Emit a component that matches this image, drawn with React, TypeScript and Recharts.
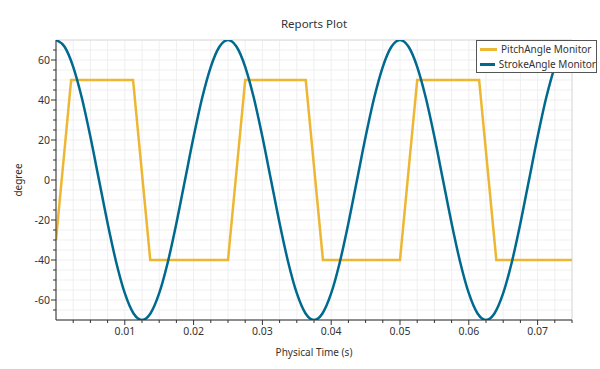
import React from "react";
import { LineChart, Line, XAxis, YAxis, CartesianGrid } from "recharts";

// PitchAngle Monitor (trapezoid wave)
const pitchTime = [0, 0.0022, 0.0112, 0.0137, 0.025, 0.0275, 0.0363, 0.0388, 0.05, 0.0525, 0.0615, 0.064, 0.075];
const pitchAngle = [-30, 50, 50, -40, -40, 50, 50, -40, -40, 50, 50, -40, -40];

// StrokeAngle Monitor sampled every 0.00125 s
const strokeTime = [
  0, 0.00125, 0.0025, 0.00375, 0.005, 0.00625, 0.0075, 0.00875, 0.01, 0.01125,
  0.0125, 0.01375, 0.015, 0.01625, 0.0175, 0.01875, 0.02, 0.02125, 0.0225, 0.02375,
  0.025, 0.02625, 0.0275, 0.02875, 0.03, 0.03125, 0.0325, 0.03375, 0.035, 0.03625,
  0.0375, 0.03875, 0.04, 0.04125, 0.0425, 0.04375, 0.045, 0.04625, 0.0475, 0.04875,
  0.05, 0.05125, 0.0525, 0.05375, 0.055, 0.05625, 0.0575, 0.05875, 0.06, 0.06125,
  0.0625, 0.06375, 0.065, 0.06625, 0.0675, 0.06875, 0.07, 0.07125, 0.0725, 0.07375,
  0.075,
];
const strokeAngle = [
  70, 66.6, 56.6, 41.1, 21.6, 0, -21.6, -41.1, -56.6, -66.6,
  -70, -66.6, -56.6, -41.1, -21.6, 0, 21.6, 41.1, 56.6, 66.6,
  70, 66.6, 56.6, 41.1, 21.6, 0, -21.6, -41.1, -56.6, -66.6,
  -70, -66.6, -56.6, -41.1, -21.6, 0, 21.6, 41.1, 56.6, 66.6,
  70, 66.6, 56.6, 41.1, 21.6, 0, -21.6, -41.1, -56.6, -66.6,
  -70, -66.6, -56.6, -41.1, -21.6, 0, 21.6, 41.1, 56.6, 66.6,
  70,
];

const xMajorTicks = [0.01, 0.02, 0.03, 0.04, 0.05, 0.06, 0.07];
const xMinorTicks = [
  0.0025, 0.005, 0.0075, 0.01, 0.0125, 0.015, 0.0175, 0.02, 0.0225, 0.025,
  0.0275, 0.03, 0.0325, 0.035, 0.0375, 0.04, 0.0425, 0.045, 0.0475, 0.05,
  0.0525, 0.055, 0.0575, 0.06, 0.0625, 0.065, 0.0675, 0.07, 0.0725, 0.075,
];
const yMajorTicks = [-60, -40, -20, 0, 20, 40, 60];
const yMinorTicks = [
  -65, -60, -55, -50, -45, -40, -35, -30, -25, -20, -15, -10, -5, 0,
  5, 10, 15, 20, 25, 30, 35, 40, 45, 50, 55, 60, 65,
];

const seriesNames = ["PitchAngle Monitor", "StrokeAngle Monitor"];
const PITCH = "#edb733";
const STROKE = "#00698f";
const AXIS = "#333";
const FONT = '"Noto Sans", sans-serif';

const pitchData = pitchTime.map((t, i) => ({ t, v: pitchAngle[i] }));
const strokeData = strokeTime.map((t, i) => ({ t, v: strokeAngle[i] }));

const isMajor = (list: number[], v: number) => list.some((m) => Math.abs(m - v) < 1e-9);

const XTick = (props: any) => {
  const { x, y, payload } = props;
  const major = isMajor(xMajorTicks, payload.value);
  return (
    <g>
      <line x1={x} x2={x} y1={y} y2={y + (major ? 5 : 3)} stroke={AXIS} />
      {major && (
        <text x={x} y={y + 15} textAnchor="middle" fontSize={10.5} fill="#333" fontFamily={FONT}>
          {payload.value.toFixed(2)}
        </text>
      )}
    </g>
  );
};

const YTick = (props: any) => {
  const { x, y, payload } = props;
  const major = isMajor(yMajorTicks, payload.value);
  return (
    <g>
      <line x1={x} x2={x - (major ? 5 : 3)} y1={y} y2={y} stroke={AXIS} />
      {major && (
        <text x={x - 6} y={y} dy="0.35em" textAnchor="end" fontSize={10.5} fill="#333" fontFamily={FONT}>
          {payload.value}
        </text>
      )}
    </g>
  );
};

export default function App() {
  return (
    <div
      style={{
        position: "absolute",
        left: 0,
        top: 0,
        width: 600,
        height: 369,
        background: "#fff",
        fontFamily: FONT,
        color: "#333",
      }}
    >
      <LineChart width={600} height={369} margin={{ top: 40, right: 28, bottom: 0, left: 0 }}>
        <CartesianGrid stroke="#efefef" />
        <CartesianGrid stroke="#dadada" xAxisId="major" yAxisId="major" />
        <XAxis
          dataKey="t"
          type="number"
          domain={[0, 0.075]}
          ticks={xMinorTicks}
          interval={0}
          height={49}
          tickSize={0}
          tickMargin={0}
          tickLine={false}
          tick={<XTick />}
          stroke={AXIS}
          allowDataOverflow
        />
        <YAxis
          type="number"
          domain={[-70, 70]}
          ticks={yMinorTicks}
          interval={0}
          width={56}
          tickSize={0}
          tickMargin={0}
          tickLine={false}
          tick={<YTick />}
          stroke={AXIS}
          allowDataOverflow
        />
        <XAxis xAxisId="major" dataKey="t" type="number" domain={[0, 0.075]} ticks={xMajorTicks} hide />
        <YAxis yAxisId="major" type="number" domain={[-70, 70]} ticks={yMajorTicks} hide />
        <Line
          data={pitchData}
          dataKey="v"
          name={seriesNames[0]}
          type="linear"
          stroke={PITCH}
          strokeWidth={2.5}
          dot={false}
          isAnimationActive={false}
        />
        <Line
          data={strokeData}
          dataKey="v"
          name={seriesNames[1]}
          type="monotone"
          stroke={STROKE}
          strokeWidth={2.5}
          dot={false}
          isAnimationActive={false}
        />
      </LineChart>

      <div
        style={{
          position: "absolute",
          left: 214,
          width: 200,
          top: 16,
          textAlign: "center",
          fontSize: 11.5,
          lineHeight: "16px",
        }}
      >
        Reports Plot
      </div>
      <div
        style={{
          position: "absolute",
          left: 214,
          width: 200,
          top: 345,
          textAlign: "center",
          fontSize: 10,
          lineHeight: "14px",
        }}
      >
        Physical Time (s)
      </div>
      <div
        style={{
          position: "absolute",
          left: -32,
          width: 100,
          top: 173,
          textAlign: "center",
          fontSize: 10,
          lineHeight: "14px",
          transform: "rotate(-90deg)",
        }}
      >
        degree
      </div>

      <div
        style={{
          position: "absolute",
          left: 476,
          top: 40,
          width: 119,
          height: 31,
          border: "1px solid #555",
          background: "#fff",
          fontSize: 10,
        }}
      >
        {seriesNames.map((name, i) => (
          <div
            key={name}
            style={{ display: "flex", alignItems: "center", height: 15, marginTop: i === 0 ? 1 : 0 }}
          >
            <div
              style={{
                marginLeft: 3,
                width: 17,
                height: 2.5,
                background: i === 0 ? PITCH : STROKE,
              }}
            />
            <span style={{ marginLeft: 4, whiteSpace: "nowrap", lineHeight: "15px" }}>{name}</span>
          </div>
        ))}
      </div>
    </div>
  );
}
